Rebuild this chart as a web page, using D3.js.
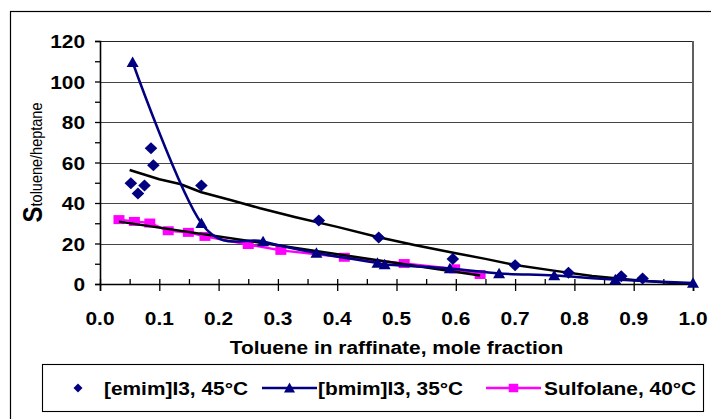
<!DOCTYPE html>
<html>
<head>
<meta charset="utf-8">
<script src="https://cdn.jsdelivr.net/npm/d3@7/dist/d3.min.js"></script>
<style>
  html, body { margin: 0; padding: 0; background: #fff; }
  svg { display: block; }
  text { font-family: "Liberation Sans", Arial, sans-serif; font-weight: bold; fill: #000; }
</style>
</head>
<body>
<svg id="chart" width="711" height="419"></svg>
<script>
// Selectivity S(toluene/heptane) vs toluene mole fraction in the raffinate
const emimX = [0.052, 0.064, 0.075, 0.086, 0.090, 0.171, 0.369, 0.470, 0.595, 0.700, 0.790, 0.879, 0.915];
const emimY = [49.8, 44.7, 48.7, 67.0, 58.7, 48.7, 31.4, 23.0, 12.4, 9.3, 5.5, 3.8, 2.7];

const bmimX = [0.055, 0.171, 0.275, 0.365, 0.468, 0.480, 0.590, 0.673, 0.766, 0.869, 1.000];
const bmimY = [109.5, 30.0, 21.0, 15.3, 10.4, 9.6, 7.7, 5.2, 4.2, 2.2, 0.5];

const sulfX = [0.032, 0.058, 0.084, 0.115, 0.149, 0.177, 0.250, 0.305, 0.412, 0.513, 0.598, 0.641];
const sulfY = [31.8, 30.9, 30.1, 26.3, 25.5, 23.5, 19.5, 16.6, 13.2, 10.1, 7.5, 4.7];

// trend line fitted to the [emim]I3 points
const emimTrendX = [0.05, 0.10, 0.135, 0.171, 0.22, 0.27, 0.33, 0.40, 0.47, 0.53, 0.60, 0.65, 0.70, 0.765, 0.83, 0.90, 0.955, 1.00];
const emimTrendY = [56.3, 51.7, 49.4, 45.3, 41.5, 37.4, 33.0, 28.2, 23.1, 19.3, 15.2, 12.4, 9.4, 6.6, 4.0, 2.0, 0.7, 0.0];

// linear trend line fitted to the sulfolane points
const sulfTrendX = [0.032, 0.641];
const sulfTrendY = [30.8, 4.2];

const xTicks = [0, 0.1, 0.2, 0.3, 0.4, 0.5, 0.6, 0.7, 0.8, 0.9, 1.0];
const xMinorTicks = [0.05, 0.15, 0.25, 0.35, 0.45, 0.55, 0.65, 0.75, 0.85, 0.95];
const yTicks = [0, 20, 40, 60, 80, 100, 120];
const yMinorTicks = [10, 30, 50, 70, 90, 110];

const seriesNames = ["[emim]I3, 45°C", "[bmim]I3, 35°C", "Sulfolane, 40°C"];
const xTitle = "Toluene in raffinate, mole fraction";

const NAVY = "#000080", MAGENTA = "#FF00FF";
const SX = 1.16;   // text is drawn slightly wide

const svg = d3.select("#chart");
const plot = { left: 100, right: 693, top: 41, bottom: 284 };

const x = d3.scaleLinear().domain([0, 1]).range([plot.left, plot.right]);
const y = d3.scaleLinear().domain([0, 120]).range([plot.bottom, plot.top]);

// outer chart frame
svg.append("rect")
  .attr("x", 10.5).attr("y", 11.5).attr("width", 720).attr("height", 430)
  .attr("fill", "none").attr("stroke", "#000").attr("stroke-width", 1.2);

// horizontal gridlines
svg.append("g").selectAll("line").data(yTicks.filter(d => d > 0)).join("line")
  .attr("x1", plot.left).attr("x2", plot.right)
  .attr("y1", d => Math.round(y(d)) + 0.5).attr("y2", d => Math.round(y(d)) + 0.5)
  .attr("stroke", d => d === 120 ? "#222" : "#444").attr("stroke-width", 1.1);

// right edge of the plot area
svg.append("line")
  .attr("x1", plot.right).attr("x2", plot.right)
  .attr("y1", plot.top).attr("y2", plot.bottom)
  .attr("stroke", "#5f5f5f").attr("stroke-width", 2);

// helper: wide text
function wideText(parent, tx, ty, str, size, anchor) {
  const g = parent.append("g").attr("transform", `translate(${tx},${ty}) scale(${SX},1)`);
  return g.append("text").attr("font-size", size).attr("text-anchor", anchor || "start").text(str);
}

// x axis: major ticks cross the axis, minor ticks point inward
const xAxis = svg.append("g").attr("transform", `translate(0,${plot.bottom})`)
  .call(d3.axisBottom(x).tickValues(xTicks).tickSize(7).tickFormat(""));
xAxis.select(".domain").attr("stroke", "#000").attr("stroke-width", 1.6);
xAxis.selectAll(".tick line").attr("y1", -5).attr("y2", 7).attr("stroke", "#000").attr("stroke-width", 1.3);

const xMinor = svg.append("g").attr("transform", `translate(0,${plot.bottom})`)
  .call(d3.axisBottom(x).tickValues(xMinorTicks).tickSize(-5).tickFormat(""));
xMinor.select(".domain").remove();
xMinor.selectAll(".tick line").attr("stroke", "#000").attr("stroke-width", 1.3);

xTicks.forEach(v => wideText(svg, x(v), 325, d3.format(".1f")(v), 18, "middle"));

// y axis: ticks point outward
const yAxis = svg.append("g").attr("transform", `translate(${plot.left},0)`)
  .call(d3.axisLeft(y).tickValues(yTicks).tickSize(5).tickFormat(""));
yAxis.select(".domain").attr("stroke", "#000").attr("stroke-width", 1.6);
yAxis.selectAll(".tick line").attr("stroke", "#000").attr("stroke-width", 1.3);

const yMinor = svg.append("g").attr("transform", `translate(${plot.left},0)`)
  .call(d3.axisLeft(y).tickValues(yMinorTicks).tickSize(5).tickFormat(""));
yMinor.select(".domain").remove();
yMinor.selectAll(".tick line").attr("stroke", "#000").attr("stroke-width", 1.3);

yTicks.forEach(v => wideText(svg, 85, y(v) + 7, String(v), 18, "end"));

// axis titles
wideText(svg, (plot.left + plot.right) / 2, 354, xTitle, 18, "middle");

const yTitle = svg.append("g")
  .attr("transform", `translate(42,${(plot.top + plot.bottom) / 2}) rotate(-90) scale(1,${SX})`)
  .append("text").attr("text-anchor", "middle");
yTitle.append("tspan").attr("font-size", 24).text("S");
yTitle.append("tspan").attr("font-size", 14.5).attr("font-weight", "normal").text("toluene/heptane");

// marker shapes
const diamond = (s) => `M0,${-s}L${s},0L0,${s}L${-s},0Z`;
const triangle = (w, h) => `M0,${-h * 0.55}L${w / 2},${h * 0.45}L${-w / 2},${h * 0.45}Z`;
const square = (w, h) => `M${-w / 2},${-h / 2}h${w}v${h}h${-w}Z`;

const lineLinear = d3.line().x(d => x(d[0])).y(d => y(d[1]));
const lineSmooth = d3.line().x(d => x(d[0])).y(d => y(d[1])).curve(d3.curveCardinal.tension(0));

const zip = (a, b) => a.map((v, i) => [v, b[i]]);
const emim = zip(emimX, emimY);
const bmim = zip(bmimX, bmimY);
const sulf = zip(sulfX, sulfY);

// sulfolane series
svg.append("path").attr("d", lineLinear(sulf))
  .attr("fill", "none").attr("stroke", MAGENTA).attr("stroke-width", 2.4);
svg.append("g").selectAll("path").data(sulf).join("path")
  .attr("transform", d => `translate(${x(d[0])},${y(d[1])})`)
  .attr("d", square(11, 9)).attr("fill", MAGENTA);

// trend lines
svg.append("path").attr("d", lineLinear(zip(sulfTrendX, sulfTrendY)))
  .attr("fill", "none").attr("stroke", "#000").attr("stroke-width", 2.5);
svg.append("path").attr("d", lineLinear(zip(emimTrendX, emimTrendY)))
  .attr("fill", "none").attr("stroke", "#000").attr("stroke-width", 2.5).attr("stroke-linejoin", "round");

// [bmim]I3 series
svg.append("path").attr("d", lineSmooth(bmim))
  .attr("fill", "none").attr("stroke", NAVY).attr("stroke-width", 2.5);
svg.append("g").selectAll("path").data(bmim).join("path")
  .attr("transform", d => `translate(${x(d[0])},${y(d[1])})`)
  .attr("d", triangle(12, 10.5)).attr("fill", NAVY);

// [emim]I3 points
svg.append("g").selectAll("path").data(emim).join("path")
  .attr("transform", d => `translate(${x(d[0])},${y(d[1])}) scale(1.05,1)`)
  .attr("d", diamond(6)).attr("fill", NAVY);

// legend
const lg = svg.append("g");
lg.append("rect").attr("x", 42.5).attr("y", 364.5).attr("width", 661).attr("height", 47)
  .attr("fill", "#fff").attr("stroke", "#000").attr("stroke-width", 1.1);
const ly = 388;
lg.append("path").attr("transform", `translate(78,${ly})`).attr("d", diamond(4.5)).attr("fill", NAVY);
wideText(lg, 104, ly + 6.5, seriesNames[0], 18, "start");

lg.append("line").attr("x1", 262).attr("x2", 317).attr("y1", ly).attr("y2", ly)
  .attr("stroke", NAVY).attr("stroke-width", 2.5);
lg.append("path").attr("transform", `translate(289.5,${ly})`).attr("d", triangle(11, 10)).attr("fill", NAVY);
wideText(lg, 318, ly + 6.5, seriesNames[1], 18, "start");

lg.append("line").attr("x1", 486).attr("x2", 541).attr("y1", ly).attr("y2", ly)
  .attr("stroke", MAGENTA).attr("stroke-width", 2.4);
lg.append("path").attr("transform", `translate(513.5,${ly})`).attr("d", square(9.5, 8.5)).attr("fill", MAGENTA);
wideText(lg, 544, ly + 6.5, seriesNames[2], 18, "start");
</script>
</body>
</html>
